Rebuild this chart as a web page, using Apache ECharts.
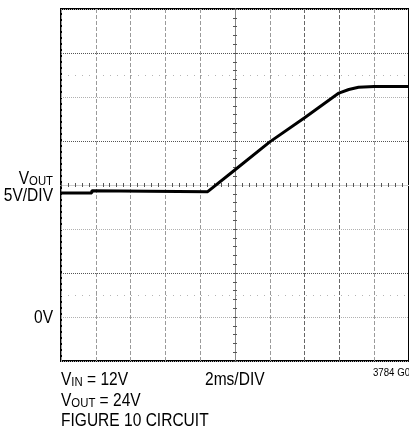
<!DOCTYPE html>
<html><head><meta charset="utf-8">
<script src="https://cdn.jsdelivr.net/npm/echarts@6/dist/echarts.min.js"></script>
<style>html,body{margin:0;padding:0;background:#fff;overflow:hidden}#c{width:409px;height:429px}</style>
</head><body><div id="c"></div>
<script>
// Waveform (time in ms, VOUT in volts, 2ms/DIV, 5V/DIV)
const timeMs = [0, 1.77, 1.77, 5.0, 8.43, 9.97, 12.0, 14.0, 15.97, 16.54, 17.1, 18.0, 20.0];
const voutV  = [14.1, 14.1, 14.35, 14.3, 14.24, 16.68, 19.9, 22.65, 25.45, 25.85, 26.1, 26.2, 26.2];
// Graticule levels (data units)
const hGridDark = [5, 20, 30];
const hMarkers = [2.5, 27.5];
const vGridDark = [14, 16];

const FONT = "'Liberation Sans',Arial,sans-serif";
const SX = 0.84;
const wave = timeMs.map((t, i) => [t, voutV[i]]);

const chart = echarts.init(document.getElementById('c'), null, {renderer: 'canvas'});
const G = {left: 61, top: 9, width: 352, height: 352};
function tickAxis(gi, min, max, inside, lineColor) {
  return {
    type: 'value', gridIndex: gi, min: min, max: max, interval: 1,
    axisLine: {show: true, onZero: true, lineStyle: {color: lineColor, width: 1}},
    axisTick: {show: true, inside: inside, length: 2, lineStyle: {color: '#555', width: 1}},
    minorTick: {show: true, splitNumber: 5, length: 2, lineStyle: {color: '#555', width: 1}},
    axisLabel: {show: false}, splitLine: {show: false}
  };
}
const richSub = {
  v: {fontSize: 18.5, fontFamily: FONT, lineHeight: 18, fill: '#000'},
  s: {fontSize: 13.5, fontFamily: FONT, lineHeight: 9, verticalAlign: 'bottom', fill: '#000'}
};
function txt(x, y, text, align, size) {
  return {type: 'text', x: x, y: y, scaleX: SX,
    style: {text: text, align: align, verticalAlign: 'middle', fontSize: size, fontFamily: FONT, fill: '#000'}};
}
function rtxt(x, y, text, align) {
  return {type: 'text', x: x, y: y, scaleX: SX,
    style: {text: text, align: align, verticalAlign: 'middle', fill: '#000', rich: richSub}};
}
chart.setOption({
  animation: false,
  backgroundColor: '#fff',
  grid: [
    Object.assign({show: true, borderColor: '#000', borderWidth: 2, backgroundColor: '#fff'}, G),
    Object.assign({}, G),
    Object.assign({}, G)
  ],
  xAxis: [
    {type: 'value', gridIndex: 0, min: 0, max: 20, interval: 2,
     axisLine: {show: false}, axisTick: {show: false}, axisLabel: {show: false},
     splitLine: {show: true, lineStyle: {color: '#9a9a9a', type: [4, 2], width: 1}}},
    tickAxis(1, -5, 5, false, '#cfcfcf'),
    tickAxis(2, -5, 5, true, '#cfcfcf')
  ],
  yAxis: [
    {type: 'value', gridIndex: 0, min: -5, max: 35, interval: 5,
     axisLine: {show: false}, axisTick: {show: false}, axisLabel: {show: false},
     splitLine: {show: true, lineStyle: {color: '#b0b0b0', type: [1, 1], width: 1}}},
    tickAxis(1, -4, 4, false, '#888'),
    tickAxis(2, -4, 4, true, '#888')
  ],
  series: [
    {type: 'line', xAxisIndex: 0, yAxisIndex: 0, data: wave, symbol: 'none', silent: true, z: 1,
     lineStyle: {opacity: 0},
     markLine: {silent: true, symbol: 'none', label: {show: false}, animation: false,
       data: [].concat(
         hGridDark.map(v => ({yAxis: v, lineStyle: {color: '#555', type: [1, 1], width: 1}})),
         hMarkers.map(v => ({yAxis: v, lineStyle: {color: '#b5b5b5', type: [1, 6], width: 1}})),
         vGridDark.map(v => ({xAxis: v, lineStyle: {color: '#666', type: [4, 2], width: 1}}))
       )}},
    {type: 'line', name: 'VOUT', xAxisIndex: 0, yAxisIndex: 0, data: wave, symbol: 'none', z: 5,
     lineStyle: {color: '#000', width: 3}}
  ],
  graphic: [
    rtxt(53, 179, '{v|V}{s|OUT}', 'right'),
    txt(53, 196, '5V/DIV', 'right', 18.5),
    txt(53, 318, '0V', 'right', 18.5),
    rtxt(61, 380, '{v|V}{s|IN}{v| = 12V}', 'left'),
    rtxt(61, 401, '{v|V}{s|OUT}{v| = 24V}', 'left'),
    txt(61, 421, 'FIGURE 10 CIRCUIT', 'left', 18.5),
    txt(205, 380, '2ms/DIV', 'left', 18.5),
    txt(373, 373, '3784 G08', 'left', 11.5)
  ]
});
</script></body></html>
